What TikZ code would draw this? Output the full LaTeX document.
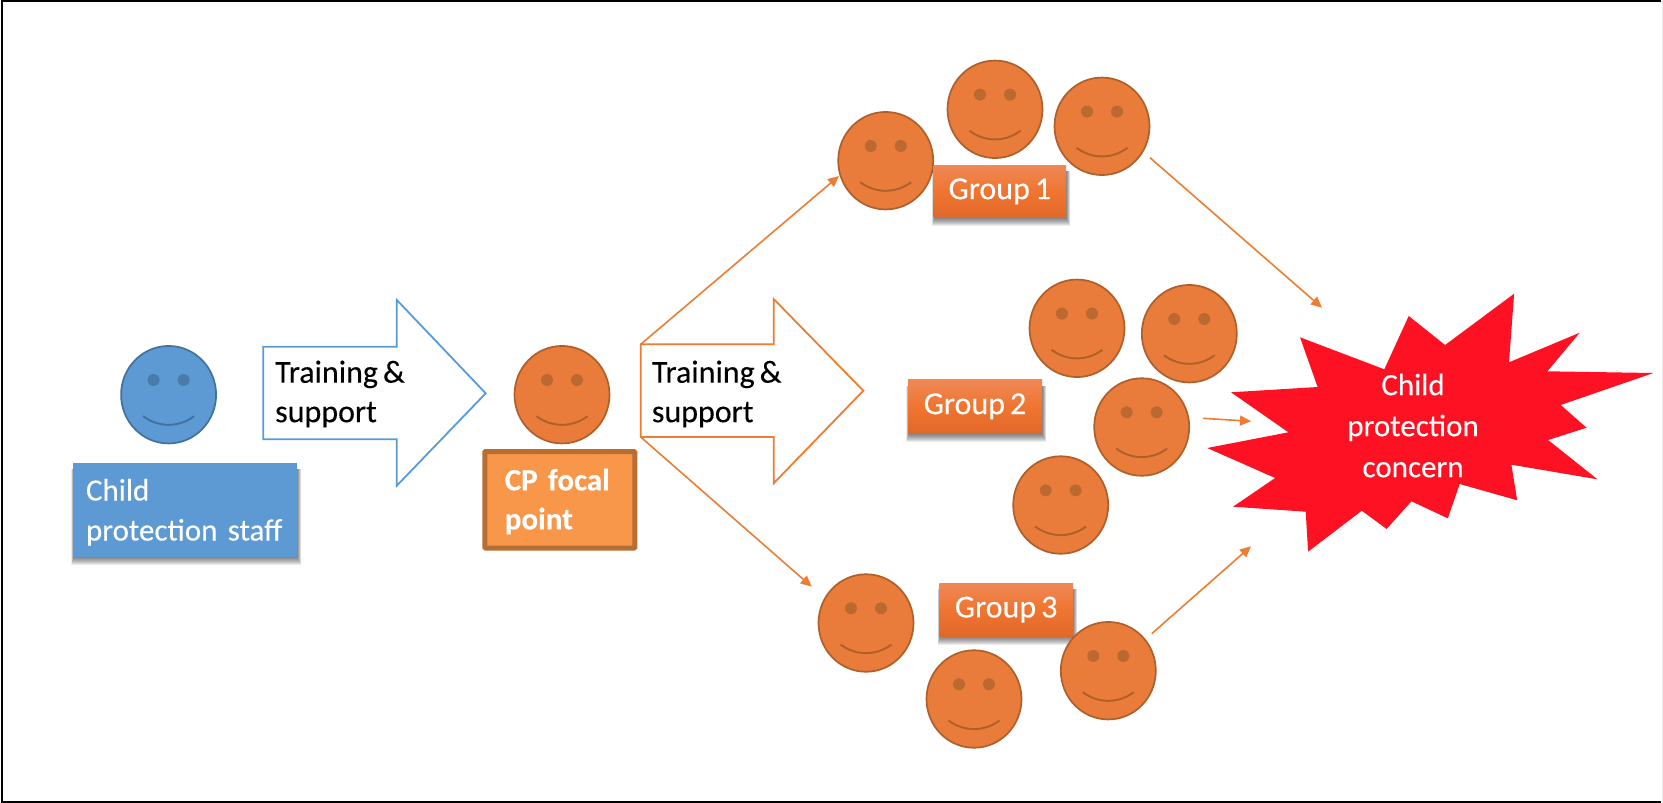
\documentclass[tikz,border=0pt]{standalone}
\usepackage{fontspec}
\setmainfont[WordSpace=0.7,FakeBold=0.2]{Carlito}
\usetikzlibrary{arrows.meta,shapes.geometric}
\definecolor{faceor}{HTML}{E97C3B}
\definecolor{faceorline}{HTML}{AE5F2A}
\definecolor{faceoreye}{HTML}{BB6831}
\definecolor{facebl}{HTML}{5D9AD3}
\definecolor{faceblline}{HTML}{41719C}
\definecolor{faceble}{HTML}{4A7CAA}
\definecolor{arrowor}{HTML}{ED7D31}
\definecolor{arrowbl}{HTML}{5B9BD5}
\definecolor{starred}{HTML}{FE1122}
\definecolor{focalfill}{HTML}{F8964A}
\definecolor{focalline}{HTML}{B86E33}
\definecolor{grouptop}{HTML}{EF8856}
\definecolor{groupmid}{HTML}{EF7530}
\definecolor{groupbot}{HTML}{E1682A}
\tikzset{
  facebody/.style={ellipse,inner sep=0pt,minimum width=95pt,minimum height=97.5pt,line width=1.7pt},
  flow/.style={draw=arrowor,line width=1.6pt,-{Triangle[length=11pt,width=10pt]}},
  blockarrow/.style={fill=white,line width=1.8pt,line join=miter},
  bodytext/.style={font=\fontsize{32}{39.5}\selectfont,align=left,inner sep=0pt,text=black},
  whitetext/.style={font=\fontsize{31}{40}\selectfont,text=white,inner sep=0pt},
}
% name, x, y, fill, line, eye
\newcommand{\smiley}[6]{%
  \node[facebody,draw=#5,fill=#4] (#1) at (#2,#3) {};
  \begin{scope}[shift={(#2,#3)}]
    \fill[#6] (-15,-14.7) circle (6);
    \fill[#6] (15,-14.7) circle (6);
    \draw[#5,line width=1.9pt] (-25.5,21.5) .. controls (-10,33) and (10,33) .. (25.5,21.5);
  \end{scope}}
% soft shadow below a rectangle: mostly under the lower edge, a little at the right
\newcommand{\softshadow}[4]{%
  \foreach \d in {8,7,6,5,4,3,2,1}{
    \fill[black,opacity=.075] ({#1-0.35*\d+1},{#2+6}) rectangle ({#3+0.5*\d},{#4+\d+0.5});
  }}
% name, x1, y1, x2, y2, text
\newcommand{\groupbox}[6]{%
  \softshadow{#2}{#3}{#4}{#5}
  \node[rectangle,inner sep=0pt,top color=grouptop,bottom color=groupbot,middle color=groupmid,
        minimum width={(#4-#2)*1pt},minimum height={(#5-#3)*1pt},whitetext,font=\fontsize{32}{36}\selectfont]
        (#1) at ({(#2+#4)/2},{(#3+#5)/2}) {\raisebox{-4pt}{#6}};}
\begin{document}
\begin{tikzpicture}[x=1pt,y=-1pt]
\useasboundingbox (0,0) rectangle (1663,803);
\fill[white] (0,0) rectangle (1663,803);
\draw[black,line width=1.7pt] (1661,1.3) -- (2,1.3) -- (2,802.2) -- (1661,802.2);
\draw[black!7,line width=1pt] (1662.5,0) -- (1662.5,803);

% left person
\smiley{staffface}{168.6}{394.7}{facebl}{faceblline}{faceble}
\softshadow{73}{463.3}{297}{556.7}
\node[rectangle,fill=facebl,minimum width=224pt,minimum height=93.4pt,inner sep=0pt,
      whitetext,align=left,text width=198pt] (staff) at (185,510) {\rule{0pt}{26pt}Child\\protection staff};

% block arrow 1
\draw[blockarrow,draw=arrowbl] (263.2,346.7) -- (396.8,346.7) -- (396.8,300) -- (485.7,393.3)
   -- (396.8,485.7) -- (396.8,439.3) -- (263.2,439.3) -- cycle;
\node[bodytext,anchor=west] (tr1) at (275,394) {Training \&\\support};

% focal point
\smiley{focalface}{562}{394.7}{faceor}{faceorline}{faceoreye}
\node[rectangle,draw=focalline,line width=5pt,fill=focalfill,
      rounded corners=0.8pt,minimum width=150pt,minimum height=96.5pt,inner sep=0pt,
      whitetext,font=\bfseries\fontsize{31}{39}\selectfont,align=left,text width=110pt] (focal) at (559.8,499.8) {\rule{0pt}{25pt}CP focal\\point};

% block arrow 2 with its corners
\coordinate (upcorner) at (640.7,344.3);
\coordinate (lowcorner) at (640.7,437);
\draw[blockarrow,draw=arrowor] (upcorner) -- (773.7,344.3) -- (773.7,299) -- (863.3,390.7)
   -- (773.7,483.3) -- (773.7,437) -- (lowcorner) -- cycle;
\node[bodytext,anchor=west] (tr2) at (651.7,394) {Training \&\\support};

% groups
\smiley{fa}{885.7}{160.7}{faceor}{faceorline}{faceoreye}
\smiley{fb}{995}{109.3}{faceor}{faceorline}{faceoreye}
\smiley{fc}{1102}{126.3}{faceor}{faceorline}{faceoreye}
\groupbox{gone}{933.7}{165}{1066}{217.7}{Group 1}

\smiley{fd}{1077}{328.3}{faceor}{faceorline}{faceoreye}
\smiley{fe}{1189.3}{333.7}{faceor}{faceorline}{faceoreye}
\smiley{ff}{1141.7}{427}{faceor}{faceorline}{faceoreye}
\smiley{fg}{1060.7}{505}{faceor}{faceorline}{faceoreye}
\groupbox{gtwo}{908}{379.7}{1042}{433}{Group 2}

\groupbox{gthree}{939.3}{583.3}{1073}{636}{Group 3}
\smiley{fh}{866}{623}{faceor}{faceorline}{faceoreye}
\smiley{fi}{974}{699}{faceor}{faceorline}{faceoreye}
\smiley{fj}{1108.3}{670.7}{faceor}{faceorline}{faceoreye}

% star
\fill[starred] (1300,337.3) -- (1384.3,369.3) -- (1408.7,316) -- (1445.1,345) -- (1514.1,293.7)
 -- (1509,362.3) -- (1579.7,332.7) -- (1547.4,371.3) -- (1653.4,373) -- (1560.7,405)
 -- (1586.5,427.7) -- (1548.1,440) -- (1597.4,479.3) -- (1511.4,464.7) -- (1517.2,500.3)
 -- (1459.7,484) -- (1447.8,518.3) -- (1411.4,501.3) -- (1386.6,529) -- (1361.8,510.7)
 -- (1308.1,551.7) -- (1305.7,511.7) -- (1233,506.7) -- (1275.1,478) -- (1207.2,448)
 -- (1288.4,432.3) -- (1231,392.3) -- (1317.6,387) -- cycle;
\node[whitetext,align=center,font=\fontsize{31}{41}\selectfont] (concern) at (1413,425.5) {Child\\protection\\concern};

% connectors
\coordinate (atop) at (839,176);
\coordinate (abot) at (811.7,586.7);
\coordinate (s1) at (1150,157.7);
\coordinate (t1) at (1322,307.7);
\coordinate (s2) at (1203,418.3);
\coordinate (t2) at (1251,421.3);
\coordinate (s3) at (1151.7,633.7);
\coordinate (t3) at (1251,546.3);
\draw[flow] (upcorner) -- (atop);
\draw[flow] (lowcorner) -- (abot);
\draw[flow] (s1) -- (t1);
\draw[flow] (s2) -- (t2);
\draw[flow] (s3) -- (t3);
\end{tikzpicture}
\end{document}
